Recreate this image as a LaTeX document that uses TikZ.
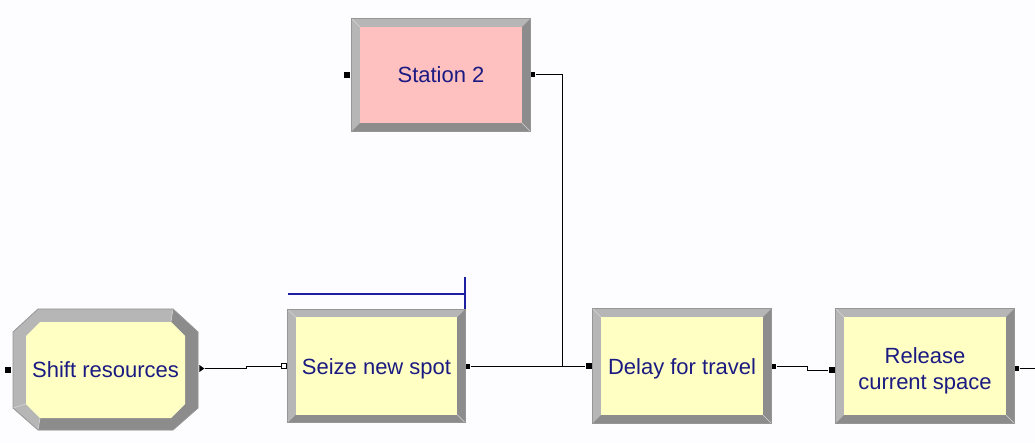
\documentclass[tikz,border=0pt]{standalone}
\usepackage{fontspec}
\setmainfont{Liberation Sans}
\usetikzlibrary{shapes.geometric}
\pgfdeclarelayer{paperlayer}
\pgfdeclarelayer{bg}
\pgfsetlayers{paperlayer,bg,main}
\definecolor{facey}{RGB}{255,255,196}
\definecolor{facep}{RGB}{255,192,192}
\definecolor{bevl}{RGB}{182,182,182}
\definecolor{bevd}{RGB}{140,140,140}
\definecolor{beve}{RGB}{150,150,150}
\definecolor{bevj}{RGB}{214,214,214}
\definecolor{labelc}{RGB}{26,26,130}
\definecolor{barc}{RGB}{30,30,160}
\definecolor{paper}{RGB}{253,252,255}
\tikzset{
  block/.style={rectangle, inner sep=0pt, text=labelc, align=center,
    font=\fontsize{22}{26}\selectfont, text height=16pt, text depth=0pt},
  twoline/.style={text height=46pt, text depth=0pt},
  outport/.style={rectangle, fill=black, inner sep=0pt, minimum width=4pt,
    minimum height=5pt, anchor=west},
  inport/.style={rectangle, fill=black, inner sep=0pt, minimum size=6pt, anchor=east},
  openport/.style={rectangle, draw=black, fill=white, line width=0.8pt, inner sep=0pt,
    minimum size=5pt, anchor=east},
  tripport/.style={isosceles triangle, fill=black, inner sep=0pt, minimum height=5pt,
    minimum width=7pt, isosceles triangle stretches, anchor=west},
  link/.style={draw=black, line width=1pt},
  bevjoin/.style={draw=bevj, line width=0.6pt},
}
% bevelled frame behind a block node: #1 node name, #2 face colour
\newcommand\bevelframe[2]{%
  \begin{pgfonlayer}{bg}
    \fill[bevl] (#1.north west) rectangle (#1.south east);
    \fill[bevd] (#1.north east) -- (#1.south east) -- (#1.south west)
      -- ([shift={(8pt,8pt)}]#1.south west) -- ([shift={(-8pt,8pt)}]#1.south east)
      -- ([shift={(-8pt,-8pt)}]#1.north east) -- cycle;
    \fill[#2] ([shift={(8pt,-8pt)}]#1.north west) rectangle ([shift={(-8pt,8pt)}]#1.south east);
    \draw[bevjoin] (#1.north west) -- ([shift={(8pt,-8pt)}]#1.north west);
    \draw[bevjoin] (#1.south east) -- ([shift={(-8pt,8pt)}]#1.south east);
    \draw[beve, line width=0.8pt] (#1.north west) rectangle (#1.south east);
  \end{pgfonlayer}}
\begin{document}
\begin{tikzpicture}[x=1pt,y=-1pt]
\begin{pgfonlayer}{paperlayer}
  \fill[paper] (0,0) rectangle (1035,443);
\end{pgfonlayer}
\useasboundingbox (0,0) rectangle (1035,443);

% blocks
\node[block, minimum width=178pt, minimum height=112pt] (station) at (441,75) {Station 2};
\bevelframe{station}{facep}
\node[block, minimum width=185pt, minimum height=121pt] (shift) at (105.5,369.5) {Shift resources};
\node[block, minimum width=177pt, minimum height=113pt] (seize) at (376.5,366) {Seize new spot};
\bevelframe{seize}{facey}
\node[block, minimum width=178pt, minimum height=114pt] (delay) at (682,366) {Delay for travel};
\bevelframe{delay}{facey}
\node[block, twoline, minimum width=178pt, minimum height=114pt] (release) at (925,366) {Release\\current space};
\bevelframe{release}{facey}

% octagonal frame of the first block
\begin{pgfonlayer}{bg}
  \fill[bevl] (38,309) -- (173,309) -- (198,332) -- (198,408) -- (173,430)
    -- (38,430) -- (13,408) -- (13,332) -- cycle;
  \fill[bevd] (173,309) -- (198,332) -- (198,408) -- (173,430) -- (38,430)
    -- (40,418) -- (171,418) -- (185,404) -- (185,336) -- (171,322) -- cycle;
  \fill[facey] (40,322) -- (171,322) -- (185,336) -- (185,404) -- (171,418)
    -- (40,418) -- (26,404) -- (26,336) -- cycle;
  \draw[bevjoin] (38,430) -- (40,418);
  \draw[bevjoin] (13,408) -- (26,404);
  \draw[bevjoin] (173,309) -- (171,322);
  \draw[beve, line width=0.8pt] (38,309) -- (173,309) -- (198,332) -- (198,408)
    -- (173,430) -- (38,430) -- (13,408) -- (13,332) -- cycle;
\end{pgfonlayer}

% ports
\node[inport] (station-in) at ([xshift=-2pt]station.west) {};
\node[outport] (station-out) at ([xshift=1pt]station.east) {};
\node[inport] (shift-in) at ([xshift=-2pt]shift.west) {};
\node[tripport] (shift-out) at ([shift={(1pt,1pt)}]shift.east) {};
\node[openport] (seize-in) at ([shift={(-1pt,0pt)}]seize.west) {};
\node[outport] (seize-out) at ([xshift=1pt]seize.east) {};
\node[inport] (delay-in) at ([xshift=-1pt]delay.west) {};
\node[outport] (delay-out) at ([xshift=1pt]delay.east) {};
\node[inport] (release-in) at ([shift={(-1pt,-4pt)}]release.west) {};
\node[outport] (release-out) at ([shift={(1pt,-2pt)}]release.east) {};

\coordinate (join) at (562,366);
\coordinate (edge) at (1035,368);

% connectors
\draw[link] (station-out.east) -| (join);
\draw[link] (shift-out.east) -- ++(42pt,0pt) |- (seize-in.west);
\draw[link] (seize-out.east) -- (delay-in.west);
\draw[link] (delay-out.east) -- ++(31pt,0pt) |- (release-in.west);
\draw[link] (release-out.east) -- (edge);

% bar over the seize block
\draw[barc, line width=1.2pt] (288,294) -- (465,294);
\draw[barc, line width=1.2pt] (465,277) -- (465,309);
\end{tikzpicture}
\end{document}
